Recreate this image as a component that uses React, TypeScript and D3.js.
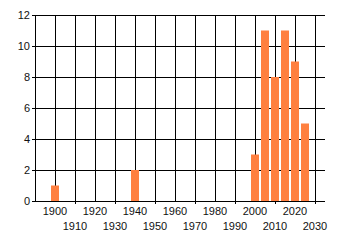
import React from "react";
import * as d3 from "d3";

const years = [1900, 1940, 2000, 2005, 2010, 2015, 2020, 2025];
const counts = [1, 2, 3, 11, 8, 11, 9, 5];
const yTicks = [0, 2, 4, 6, 8, 10, 12];
const xTicks = [1900, 1910, 1920, 1930, 1940, 1950, 1960, 1970, 1980, 1990, 2000, 2010, 2020, 2030];

export default function App() {
  const W = 340, H = 245;
  const x = d3.scaleLinear().domain([1890, 2035]).range([35, 325]);
  const y = d3.scaleLinear().domain([0, 12]).range([201, 15]);
  const barW = x(1904) - x(1900);
  const font = "'Liberation Sans', Arial, sans-serif";
  return (
    <svg width={W} height={H} style={{ position: "absolute", left: 0, top: 0, background: "#fff" }}>
      <rect width={W} height={H} fill="#fff" />
      {yTicks.map((t) => (
        <g key={"y" + t}>
          <line x1={32} x2={x.range()[1]} y1={Math.round(y(t)) + 0.5} y2={Math.round(y(t)) + 0.5} stroke="#000" strokeWidth={1} />
          <text x={30} y={y(t) + 4} textAnchor="end" fontFamily={font} fontSize={11} fill="#111">{t}</text>
        </g>
      ))}
      {xTicks.map((t, i) => (
        <g key={"x" + t}>
          <line x1={Math.round(x(t)) + 0.5} x2={Math.round(x(t)) + 0.5} y1={y(12)} y2={i % 2 === 1 ? y(0) + 3 : y(0)} stroke="#000" strokeWidth={1} />
          <text x={x(t)} y={i % 2 === 0 ? 214.5 : 230} textAnchor="middle" fontFamily={font} fontSize={11} fill="#111">{t}</text>
        </g>
      ))}
      <line x1={35.5} x2={35.5} y1={y(12)} y2={y(0) + 1} stroke="#000" />
      {years.map((yr, i) => (
        <rect key={"b" + yr} x={x(yr) - barW / 2} y={y(counts[i])} width={barW} height={y(0) - y(counts[i])} fill="#FF8040" />
      ))}
      <line x1={35} x2={x.range()[1]} y1={201.5} y2={201.5} stroke="#000" />
    </svg>
  );
}
